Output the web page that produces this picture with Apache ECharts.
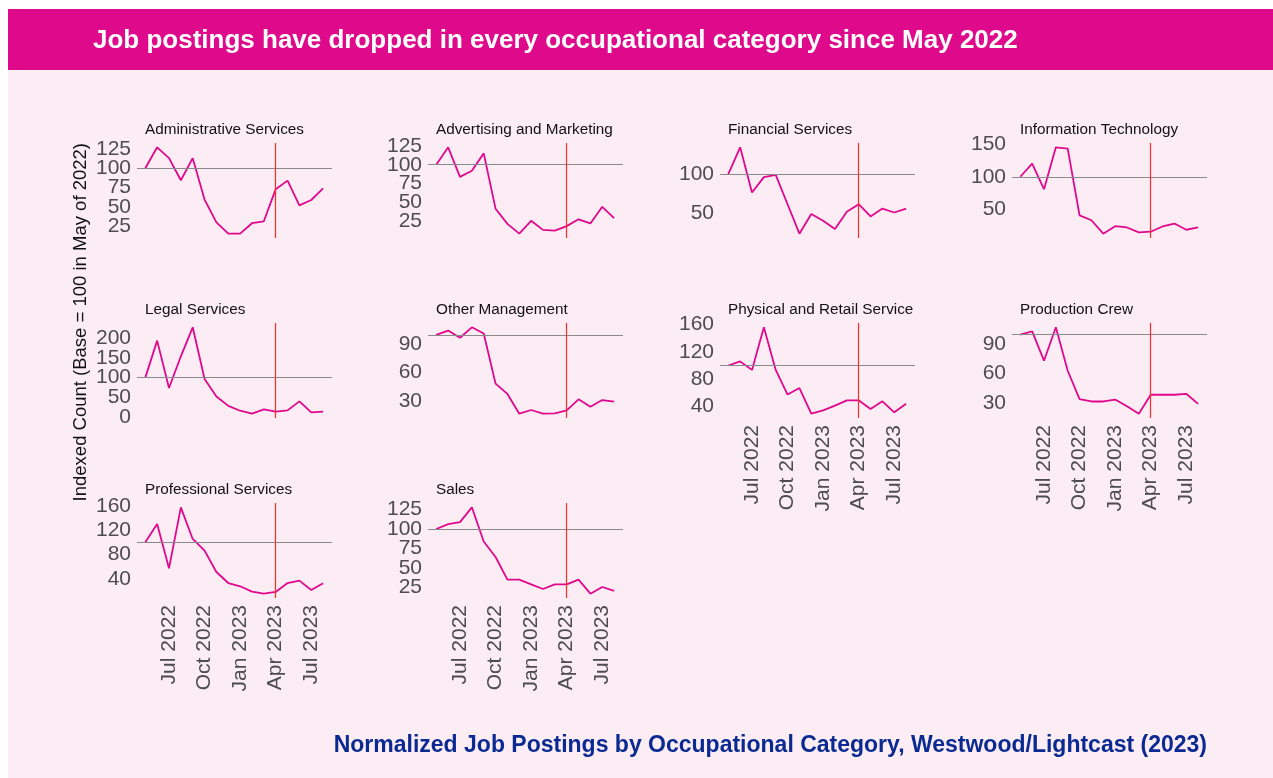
<!DOCTYPE html>
<html>
<head>
<meta charset="utf-8">
<script src="https://cdn.jsdelivr.net/npm/echarts@6/dist/echarts.min.js"></script>
<style>
  body{ margin:0; background:#fff; }
  #bg{ position:absolute; left:8px; top:9px; width:1265px; height:769px; background:#fcedf5; }
  #banner{ position:absolute; left:8px; top:9px; width:1265px; height:61px; background:#df098c; }
  #main{ position:absolute; left:0; top:0; width:1273px; height:778px; }
</style>
</head>
<body>
<div id="bg"></div>
<div id="banner"></div>
<div id="main"></div>
<script>
// months May 2022 .. Aug 2023
var months = ['May 2022','Jun 2022','Jul 2022','Aug 2022','Sep 2022','Oct 2022','Nov 2022','Dec 2022',
              'Jan 2023','Feb 2023','Mar 2023','Apr 2023','May 2023','Jun 2023','Jul 2023','Aug 2023'];
var tickLabels = ['Jul 2022','Oct 2022','Jan 2023','Apr 2023','Jul 2023'];
var markMonth = 'Apr 2023';

var categories = ['Administrative Services','Advertising and Marketing','Financial Services','Information Technology',
                  'Legal Services','Other Management','Physical and Retail Services','Production Crew',
                  'Professional Services','Sales'];

var administrative = [100,127,113,84.5,113,59.5,30,15.5,15.5,29,31.5,73,84,52,59,74];
var advertising    = [100,123,84,92,115,42,22,9,26,14,13,19,28,22.5,44.5,29.5];
var financial      = [100,134,76.5,96,99,61.5,24,49,40.5,30,52,61.5,46,56,51,56];
var infoTech       = [100,120,81,145,143,41,33.5,13,24.5,22.5,15,16,24,28.5,19,22.5];
var legal          = [100,194.5,73.5,154.5,228.5,96.5,52,28,15.5,8,19,13,16.5,39.5,11.5,13];
var otherMgmt      = [100,104.6,97,108,101.4,48.4,37.5,16.6,20.5,16.6,17,20,31.8,24,31,29.3];
var physical       = [100,106,93.6,156,93.6,57.4,67,29.4,34.3,41.2,49,49,36.3,47.5,31.4,44];
var production     = [100,103.4,73.3,107.5,63,34,31.5,31.5,33.5,26.7,19,38.4,38.4,38.4,39.4,29.1];
var professional   = [100,130,57.4,157.4,105.5,86.3,51.4,33.3,27.9,19.1,15.8,18.6,33.3,37.2,21.9,32.8];
var sales          = [100,106.4,109,128,84,64,34.8,34.8,28.8,22.7,28.8,28.8,34.8,16.7,25.3,20.2];

var seriesValues = [administrative, advertising, financial, infoTech, legal,
                    otherMgmt, physical, production, professional, sales];

// y tick labels for each panel
var yTicks = [
  [25,50,75,100,125],
  [25,50,75,100,125],
  [50,100],
  [50,100,150],
  [0,50,100,150,200],
  [30,60,90],
  [40,80,120,160],
  [30,60,90],
  [40,80,120,160],
  [25,50,75,100,125]
];

var colLeft = [137, 428, 720, 1012];
var rowTop = [143, 323, 503];
var plotW = 195, plotH = 95;
var lineColor = '#e0088c';
var greyText = '#4d4d4d';
var font = 'Liberation Sans, Arial, sans-serif';

var tickPos = tickLabels.map(function(l){ return months.indexOf(l); });
var markIdx = months.indexOf(markMonth);
// panels that carry the date labels (bottom of each column)
var showX = [6, 7, 8, 9];

var grids = [], xAxes = [], yAxes = [], series = [], titles = [];

titles.push({
  text: 'Job postings have dropped in every occupational category since May 2022',
  left: 93, top: 28, padding: 0,
  textStyle: { color:'#fff', fontSize:26, fontWeight:'bold', fontFamily: font }
});
titles.push({
  text: 'Normalized Job Postings by Occupational Category, Westwood/Lightcast (2023)',
  right: 66, top: 734, padding: 0,
  textStyle: { color:'#0a2a92', fontSize:23, fontWeight:'bold', fontFamily: font }
});

function yAxisFor(k, lo, hi, ticks){
  return {
    type: 'value', gridIndex: k, position: 'left', offset: 0, min: lo, max: hi,
    axisLine: {show:false}, axisTick: {show:false}, splitLine: {show:false},
    axisLabel: {
      customValues: ticks, margin: 6,
      color: greyText, fontSize: 21, fontFamily: font
    }
  };
}

categories.forEach(function(name, k){
  var col = k % 4, row = Math.floor(k / 4);
  var vals = seriesValues[k];
  var lo = Math.min.apply(null, vals), hi = Math.max.apply(null, vals);
  var pad = (hi - lo) * 0.05;

  grids.push({ left: colLeft[col], top: rowTop[row], width: plotW, height: plotH });

  titles.push({
    text: name,
    left: colLeft[col] + 8, top: rowTop[row] - 21, padding: 0,
    textStyle: { color:'#111', fontSize:15.3, fontWeight:'normal', fontFamily: font,
                 width: 188, overflow:'truncate', ellipsis:'' }
  });

  xAxes.push({
    type: 'value', gridIndex: k, min: -0.7, max: 15.75,
    axisLine: {show:false}, axisTick: {show:false}, splitLine: {show:false},
    axisLabel: {
      show: showX.indexOf(k) >= 0,
      customValues: tickPos,
      rotate: 90, margin: 7,
      color: greyText, fontSize: 21, fontFamily: font,
      formatter: function(v){ return tickLabels[tickPos.indexOf(v)] || ''; }
    }
  });

  // tick labels split over two stacked axes, otherwise echarts drops every other one
  var even = yTicks[k].filter(function(v, i){ return i % 2 === 0; });
  var odd = yTicks[k].filter(function(v, i){ return i % 2 === 1; });
  var yIdx = yAxes.length;
  yAxes.push(yAxisFor(k, lo - pad, hi + pad, even));
  yAxes.push(yAxisFor(k, lo - pad, hi + pad, odd));

  series.push({
    type: 'line', xAxisIndex: k, yAxisIndex: yIdx,
    data: vals.map(function(v, i){ return [i, v]; }),
    showSymbol: false, symbol: 'none',
    lineStyle: { color: lineColor, width: 1.8 },
    markLine: {
      silent: true, symbol: 'none', label: {show:false},
      emphasis: { disabled: true },
      lineStyle: { color:'#ff2a2a', width:1.2, type:'solid' },
      data: [
        { yAxis: 100, lineStyle: { color:'#8a8a8a', width:1.2, type:'solid' } },
        { xAxis: markIdx, lineStyle: { color:'#ff2a2a', width:1.2, type:'solid' } }
      ]
    }
  });
});

var chart = echarts.init(document.getElementById('main'));
chart.setOption({
  animation: false,
  title: titles,
  grid: grids,
  xAxis: xAxes,
  yAxis: yAxes,
  series: series,
  graphic: [{
    type: 'text', left: 71, top: 143, rotation: Math.PI / 2,
    style: { text: 'Indexed Count (Base = 100 in May of 2022)', fill:'#111', fontSize:18.5, fontFamily: font }
  }]
});
</script>
</body>
</html>
